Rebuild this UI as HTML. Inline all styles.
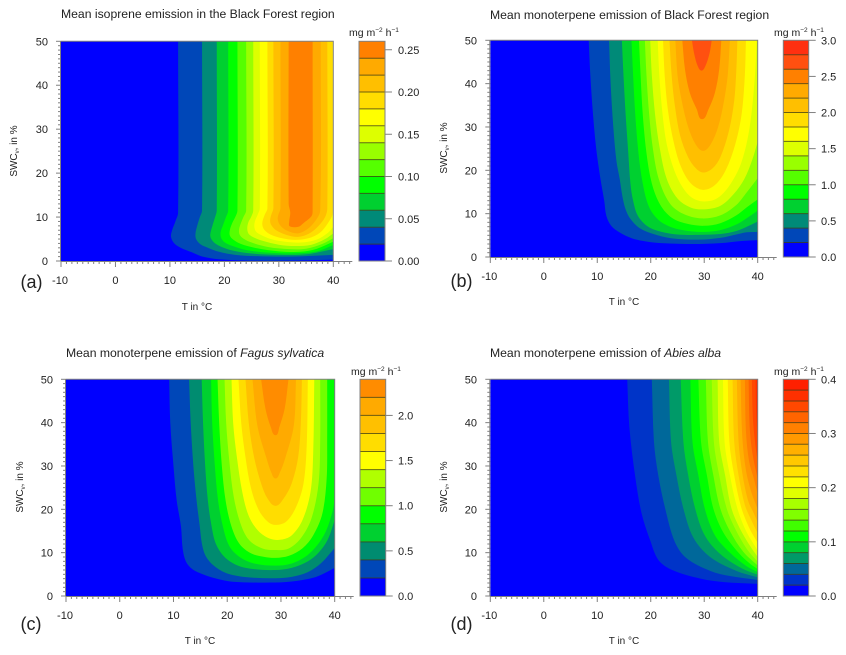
<!DOCTYPE html>
<html lang="en">
<head>
<meta charset="utf-8">
<title>Mean isoprene and monoterpene emission contour charts</title>
<style>
html,body{margin:0;padding:0;background:#fff;}
svg{display:block;}
text{font-family:"Liberation Sans",Arial,sans-serif;fill:#222;}
.title{font-size:12.2px;}
.tick{font-size:11px;}
.axis-title{font-size:10px;}
.panel-letter{font-size:18px;}
.unit{font-size:10.5px;}
</style>
</head>
<body>
<svg id="chart" xmlns="http://www.w3.org/2000/svg" width="846" height="655" viewBox="0 0 846 655">
  <rect width="846" height="655" fill="#fff"/>

  <text class="title" x="61" y="18">Mean isoprene emission in the Black Forest region</text>
  <text class="title" x="490" y="19">Mean monoterpene emission of Black Forest region</text>
  <text class="title" x="66" y="357">Mean monoterpene emission of <tspan font-style="italic">Fagus sylvatica</tspan></text>
  <text class="title" x="490" y="357">Mean monoterpene emission of <tspan font-style="italic">Abies alba</tspan></text>

  <text class="panel-letter" x="20.5" y="288">(a)</text>
  <text class="panel-letter" x="450.5" y="287">(b)</text>
  <text class="panel-letter" x="20.5" y="630">(c)</text>
  <text class="panel-letter" x="450.5" y="630">(d)</text>

  <text class="axis-title" x="197" y="310" text-anchor="middle">T in °C</text>
  <text class="axis-title" x="624" y="305" text-anchor="middle">T in °C</text>
  <text class="axis-title" x="200" y="644" text-anchor="middle">T in °C</text>
  <text class="axis-title" x="624" y="644" text-anchor="middle">T in °C</text>

  <text class="axis-title" transform="translate(17,151) rotate(-90)" text-anchor="middle">SWC<tspan font-size="6" dy="2">v</tspan><tspan dy="-2">, in %</tspan></text>
  <text class="axis-title" transform="translate(447,148) rotate(-90)" text-anchor="middle">SWC<tspan font-size="6" dy="2">v</tspan><tspan dy="-2">, in %</tspan></text>
  <text class="axis-title" transform="translate(23,487) rotate(-90)" text-anchor="middle">SWC<tspan font-size="6" dy="2">v</tspan><tspan dy="-2">, in %</tspan></text>
  <text class="axis-title" transform="translate(447,487) rotate(-90)" text-anchor="middle">SWC<tspan font-size="6" dy="2">v</tspan><tspan dy="-2">, in %</tspan></text>

  <text class="unit" x="349" y="36">mg m<tspan font-size="6.5" dy="-4">−2</tspan><tspan dy="4"> h</tspan><tspan font-size="6.5" dy="-4">−1</tspan></text>
  <text class="unit" x="774" y="36">mg m<tspan font-size="6.5" dy="-4">−2</tspan><tspan dy="4"> h</tspan><tspan font-size="6.5" dy="-4">−1</tspan></text>
  <text class="unit" x="351" y="375">mg m<tspan font-size="6.5" dy="-4">−2</tspan><tspan dy="4"> h</tspan><tspan font-size="6.5" dy="-4">−1</tspan></text>
  <text class="unit" x="774" y="375">mg m<tspan font-size="6.5" dy="-4">−2</tspan><tspan dy="4"> h</tspan><tspan font-size="6.5" dy="-4">−1</tspan></text>
</svg>

<script>
// ---------- shared axis data ----------
const xTickLabels = [-10, 0, 10, 20, 30, 40];
const yTickLabels = [0, 10, 20, 30, 40, 50];

// ---------- panel (a) isoprene ----------
const levelsA = [0, 0.02, 0.04, 0.06, 0.08, 0.10, 0.12, 0.14, 0.16, 0.18, 0.20, 0.22, 0.24, 0.26];
const barTicksA = ["0.00", "0.05", "0.10", "0.15", "0.20", "0.25"];
const contoursA = [
  [[11.5,50],[11.5,11],[11,9],[10.4,7],[10.2,5.5],[10.8,4],[12,3],[14,2],[16,1],[19,0.4],[24,0.1],[33,0.1],[40,0.3]],
  [[15.9,50],[15.9,11.5],[15.5,10],[15,8],[14.7,6.3],[14.8,5],[15.6,3.8],[17,3],[19,2.1],[22,1.4],[26,1.1],[32,1],[40,1.4]],
  [[18.6,50],[18.6,11.5],[18.3,10],[17.8,8],[17.4,6],[17.6,5],[18.3,4],[19.5,3.2],[21.5,2.4],[25,1.7],[30,1.4],[35,1.5],[40,2.7]],
  [[20.7,50],[20.7,11.5],[20.3,10],[19.7,8],[19.3,6.5],[19.4,5.3],[20,4.3],[21.5,3.4],[24,2.5],[28,1.9],[33,1.75],[37,2.2],[40,3.6]],
  [[22.4,50],[22.4,11.5],[22,10],[21.4,8.5],[21,7],[21,5.8],[21.6,4.9],[23,3.9],[26,2.9],[30,2.2],[34,2.1],[37,2.8],[40,4.4]],
  [[24,50],[24,11.5],[23.5,10],[23,8.5],[22.7,7.2],[22.8,6],[23.5,5.1],[25,4.2],[28,3.2],[32,2.7],[35,2.8],[38,3.9],[40,5.2]],
  [[25.3,50],[25.3,11.5],[24.9,10],[24.4,8.8],[24.2,7.5],[24.4,6.3],[25.2,5.5],[27,4.6],[30,3.7],[33,3.4],[36,3.7],[38.5,5],[40,6.3]],
  [[26.5,50],[26.5,12],[26.1,10.5],[25.6,9],[25.5,7.8],[25.8,6.7],[26.6,6],[28.5,5],[31,4.4],[34,4.2],[37,4.9],[39,6.4],[40,7.8]],
  [[27.9,50],[27.9,12],[27.4,10.5],[27,9],[27,8],[27.4,7],[28.5,6],[30.5,5.2],[33,4.8],[35.5,5.2],[37.5,6.4],[39,8.6],[39.9,11],[39.9,50]],
  [[29,50],[29,12],[28.6,10.5],[28.4,9.2],[28.6,8.2],[29.5,7],[31.5,5.9],[33.5,5.5],[35.5,6.2],[37.3,8],[38.5,10],[38.9,12],[38.9,50]],
  [[30.3,50],[30.3,12],[29.9,10.5],[29.8,9.5],[30.2,8.2],[31.5,6.9],[33.5,6.3],[35.3,7.3],[36.8,9.3],[37.6,11.5],[37.7,50]],
  [[31.8,50],[31.8,13],[32.1,11],[31.9,9],[32,7.9],[33.6,7.8],[34.5,8.6],[36,10.2],[36.2,11.5],[36.2,50]]
];

// ---------- panel (b) monoterpene, Black Forest ----------
const levelsB = [0, 0.2, 0.4, 0.6, 0.8, 1.0, 1.2, 1.4, 1.6, 1.8, 2.0, 2.2, 2.4, 2.6, 2.8, 3.0];
const barTicksB = ["0.0", "0.5", "1.0", "1.5", "2.0", "2.5", "3.0"];
const contoursB = [
  [[8.4,50],[8.7,42],[9.2,33],[9.8,25],[10.6,18],[11.3,13],[11.7,9.5],[12.6,7.2],[14,5.8],[16.5,4.3],[19,3.6],[22,3.2],[28,3],[33,3.2],[37,3.7],[40,3.9]],
  [[12.2,50],[12.5,40],[13,30],[13.6,22],[14.2,18],[14.7,14],[15.3,11],[16.2,8.8],[18,6.6],[20.5,5.3],[24,4.3],[29,4],[33,4.4],[36,5.2],[38,5.7],[40,5.8]],
  [[14.6,50],[14.9,42],[15.3,33],[15.8,24],[16.2,17],[16.7,13],[17.6,9.5],[19.5,7],[22,5.8],[25,5.2],[29,5.1],[33,5.3],[36,6],[38,7],[40,8.2]],
  [[16.4,50],[16.7,42],[17.1,33],[17.7,24],[18.5,17],[19.7,11.5],[21.5,8.5],[24,6.8],[27,6],[30,5.8],[33,6.2],[36,7.5],[38,9],[40,10.7]],
  [[17.8,50],[18.1,42],[18.5,33],[19.2,24],[20.2,17],[21.8,12],[24,9],[27,7.6],[30,7.2],[33,7.8],[36,9.6],[38,11.5],[40,13.3]],
  [[18.9,50],[19.2,42],[19.7,33],[20.4,25],[21.5,18],[23.5,12.5],[26,10],[29.5,8.9],[33,9.6],[36,12],[38,15],[40,18.2]],
  [[19.9,50],[20.2,42],[20.8,33],[21.7,25],[23,18],[25,13.5],[27.5,11.4],[30,11],[33,11.8],[35.5,14.5],[37.5,18],[39,22.5],[40,26.6]],
  [[21.3,50],[21.6,42],[22.2,33],[23,26],[24.4,20],[26,16],[27.8,13.6],[30,12.8],[32.5,13.6],[35,17],[37,22],[38.5,30],[39.5,42],[39.8,50]],
  [[22.3,50],[22.6,42],[23.2,34],[24.2,27],[25.6,21],[27.5,17],[29.8,15.5],[32,16.6],[34,20],[35.8,26],[37,33],[37.6,42],[37.8,50]],
  [[23.5,50],[23.9,42],[24.5,35],[25.5,28],[27,23],[28.5,20.4],[29.8,19.5],[31.5,20.4],[33,23],[34.6,29],[35.6,36],[36,43],[36.2,50]],
  [[24.6,50],[25,42],[25.8,36],[27,30],[28.4,26],[29.8,24.5],[31.2,26],[32.6,30],[33.7,36],[34.4,42],[34.8,50]],
  [[25.9,50],[26.4,43.3],[27.3,37.9],[28.6,34.1],[29.6,31.8],[30.8,34.1],[32,37.9],[32.8,43.3],[33.2,50]],
  [[27.7,50],[28.1,47],[28.8,44],[29.5,43],[30.2,44],[31,47],[31.4,50]]
];

// ---------- panel (c) monoterpene, Fagus sylvatica ----------
const levelsC = [0, 0.2, 0.4, 0.6, 0.8, 1.0, 1.2, 1.4, 1.6, 1.8, 2.0, 2.2, 2.4];
const barTicksC = ["0.0", "0.5", "1.0", "1.5", "2.0"];
const contoursC = [
  [[9.2,50],[9.4,40],[10,30],[10.6,22],[11.4,16],[11.7,11],[12.3,8],[13.5,6.2],[15.5,5],[18,4],[21,3.3],[29,3.1],[33,3.5],[36,4.2],[38,5.2],[40,6.5]],
  [[12.9,50],[13.2,40],[13.7,30],[14.3,22],[14.9,16],[15.3,12],[16,9.2],[17.5,7],[20,5.2],[24,4.3],[29,4.1],[32,4.4],[35,5.5],[37.5,7.6],[40,11.1]],
  [[15.25,50],[15.5,40],[15.9,30],[16.4,22],[17.1,16],[17.9,12],[19.5,9],[22,7],[25,6.2],[29,6],[32,6.5],[35,8],[37,10],[38.7,13],[40,17.5]],
  [[17,50],[17.2,40],[17.7,30],[18.3,22],[19.2,16],[20.4,11.5],[22.3,9],[25,7.5],[29,7],[32,7.5],[35,9.5],[37.5,13],[39,17],[39.9,22],[39.9,50]],
  [[18.2,50],[18.5,40],[19,30],[19.7,22],[20.8,16],[22.3,12],[24.5,9.8],[27,9],[29,8.8],[31.5,9.3],[34,11],[36,14],[37.7,19],[38.5,27],[38.6,36],[38.6,50]],
  [[19.5,50],[19.8,40],[20.4,31],[21.2,23],[22.4,17],[24,13],[26.5,11],[29,10.6],[31.5,11],[33.8,13.5],[35.7,18],[37,26],[37.3,36],[37.3,50]],
  [[20.8,50],[21.1,40],[21.8,32],[22.8,24],[24,18.5],[25.8,15],[28,13.2],[30,13],[32,14],[34,17.5],[35.5,24],[36,33],[36.2,50]],
  [[22.1,50],[22.6,40],[23.4,32],[24.4,25],[25.8,20],[27.5,17.2],[29,16.4],[31,17.2],[32.8,20.5],[34.2,26],[34.8,35],[35,50]],
  [[23.4,50],[24,40],[25,32],[26.3,26],[27.5,22.5],[29,20.8],[30.5,22.5],[32,26],[33.2,32],[33.7,40],[33.9,50]],
  [[24.7,50],[25.6,39.4],[27.3,31.8],[28.2,28.5],[29,27.1],[29.8,28.5],[30.8,31.8],[32.4,39.4],[32.8,50]],
  [[26.3,50],[27.1,43.3],[28.1,39],[29,37.1],[29.7,39],[30.7,43.3],[31.4,50]]
];

// ---------- panel (d) monoterpene, Abies alba ----------
const levelsD = [0, 0.02, 0.04, 0.06, 0.08, 0.10, 0.12, 0.14, 0.16, 0.18, 0.20, 0.22, 0.24, 0.26, 0.28, 0.30, 0.32, 0.34, 0.36, 0.38, 0.40];
const barTicksD = ["0.0", "0.1", "0.2", "0.3", "0.4"];
const contoursD = [
  [[15.6,50],[16,39],[17.1,27.5],[18.3,19],[19.9,12.8],[21.5,8.2],[24.2,5.9],[29.3,4],[33.7,3.2],[40,2.8]],
  [[20.2,50],[20.6,35.6],[21.4,27.9],[22.7,20.2],[24.5,12.5],[26.7,8.7],[31.1,5.8],[34.8,4.6],[40,3.7]],
  [[23.4,50],[23.8,35.6],[24.8,27.9],[26.1,20.2],[28,13.4],[31.1,9],[36,5.8],[40,4.3]],
  [[25.6,50],[26.1,35.6],[27,27.9],[28.3,20.2],[30.1,14],[33,9.7],[37,6.4],[40,4.9]],
  [[27.4,50],[27.8,35.6],[28.9,27.9],[30.1,20.2],[32,14],[34.8,10],[37.9,6.9],[40,5.5]],
  [[28.9,50],[29.4,35.6],[30.5,27.9],[31.7,20.2],[33.6,14.6],[36.4,10],[38.6,7.4],[40,6.2]],
  [[30.3,50],[30.7,35.6],[31.7,27.9],[33,20.2],[34.8,15],[37.3,10.2],[40,7]],
  [[31.4,50],[31.8,35.6],[32.8,27.9],[34.2,20.2],[35.8,15.5],[38,10.8],[40,7.9]],
  [[32.5,50],[32.8,35.6],[33.9,27.9],[35.1,20.2],[36.7,15.5],[38.6,11.5],[40,9]],
  [[33.5,50],[33.8,35.6],[34.8,27.9],[36.2,20.2],[37.9,14.8],[40,10.5]],
  [[34.4,50],[34.7,35.6],[35.6,27.9],[36.9,20.5],[38.5,15.5],[40,12.3]],
  [[35.3,50],[35.6,35.6],[36.4,28],[37.6,21],[39,17],[40,14.5]],
  [[36.1,50],[36.4,36],[37.1,28.5],[38.2,22],[39.3,19],[40,17]],
  [[36.8,50],[37.1,37],[37.8,29],[38.8,24],[40,20]],
  [[37.6,50],[37.8,38],[38.4,31],[39.3,27],[40,23.5]],
  [[38.3,50],[38.5,39],[39,33],[40,27]],
  [[38.9,50],[39.1,41],[39.5,35.5],[40,31]],
  [[39.6,50],[39.7,43],[40,36]]
];

// ---------- styles and layout ----------
const paletteA = ["#0000ff","#0047b8","#008a78","#00d030","#00ff00","#55ff00","#99ff00","#ddff00","#ffff00","#ffdd00","#ffbf00","#ffaa00","#ff8000"];
const paletteB = ["#0000ff","#0047b8","#008a78","#00d030","#00ff00","#55ff00","#99ff00","#ddff00","#ffff00","#ffdd00","#ffbf00","#ffaa00","#ff8000","#ff5010","#ff3010"];
const paletteC = ["#0000ff","#0047b8","#008c70","#00d030","#00ff00","#70ff00","#b0ff00","#ffff00","#ffdd00","#ffc000","#ffaa00","#ff8c00"];
const paletteD = ["#0000ff","#0034c8","#00689a","#009a68","#00d030","#00ff00","#40ff00","#80ff00","#a8ff00","#e0ff00","#ffff00","#ffe000","#ffc800","#ffb000","#ff9900","#ff8000","#ff6400","#ff4800","#ff3000","#ff2000"];

const panels = [
  {id:"a", levels:levelsA, ticks:barTicksA, contours:contoursA, colors:paletteA,
   left:61, right:333.3, top:41.3, bottom:261, barL:359, barR:385, tickY:284, yLabelR:48, barLabelX:398},
  {id:"b", levels:levelsB, ticks:barTicksB, contours:contoursB, colors:paletteB,
   left:490.3, right:757.7, top:40.3, bottom:257, barL:783.3, barR:808.7, tickY:280, yLabelR:477, barLabelX:821},
  {id:"c", levels:levelsC, ticks:barTicksC, contours:contoursC, colors:paletteC,
   left:66, right:334.7, top:379.3, bottom:596, barL:360, barR:385.7, tickY:619, yLabelR:53, barLabelX:398},
  {id:"d", levels:levelsD, ticks:barTicksD, contours:contoursD, colors:paletteD,
   left:490.3, right:757.7, top:379.3, bottom:596, barL:783.3, barR:808.7, tickY:619, yLabelR:477, barLabelX:821}
];

const svg = document.getElementById("chart");
const NS = "http://www.w3.org/2000/svg";
const AXIS = "#808080";

function mk(tag, attrs, parent) {
  const node = document.createElementNS(NS, tag);
  for (const k in attrs) node.setAttribute(k, attrs[k]);
  parent.appendChild(node);
  return node;
}

// Smooth path through data points: chord-limited tangents avoid overshoot.
function smoothPath(pts) {
  let d = "M" + pts[0][0].toFixed(2) + " " + pts[0][1].toFixed(2);
  const dirs = pts.map(function (p, i) {
    const a = pts[Math.max(i - 1, 0)], b = pts[Math.min(i + 1, pts.length - 1)];
    const dx = b[0] - a[0], dy = b[1] - a[1], n = Math.hypot(dx, dy) || 1;
    return [dx / n, dy / n];
  });
  for (let i = 0; i < pts.length - 1; i++) {
    const p = pts[i], q = pts[i + 1];
    const s = Math.hypot(q[0] - p[0], q[1] - p[1]) * 0.33;
    d += "C" + (p[0] + dirs[i][0] * s).toFixed(2) + " " + (p[1] + dirs[i][1] * s).toFixed(2) +
         " " + (q[0] - dirs[i + 1][0] * s).toFixed(2) + " " + (q[1] - dirs[i + 1][1] * s).toFixed(2) +
         " " + q[0].toFixed(2) + " " + q[1].toFixed(2);
  }
  return d;
}

panels.forEach(function (p) {
  const xScale = function (t) { return p.left + (t + 10) / 50 * (p.right - p.left); };
  const yScale = function (s) { return p.bottom - s / 50 * (p.bottom - p.top); };
  const vMax = p.levels[p.levels.length - 1];
  const barScale = function (v) { return p.bottom - v / vMax * (p.bottom - p.top); };

  const group = mk("g", {}, svg);
  
  

  // Clip for contour fills
  const defs = mk("defs", {}, group);
  const clip = mk("clipPath", {id: "clip-" + p.id}, defs);
  mk("rect", {x: p.left, y: p.top, width: p.right - p.left, height: p.bottom - p.top}, clip);

  const plot = mk("g", {"clip-path": "url(#clip-" + p.id + ")"}, group);
  
  

  const base = mk("rect", {x: p.left, y: p.top, width: p.right - p.left, height: p.bottom - p.top, fill: p.colors[0]}, plot);
  
  

  p.contours.forEach(function (line, i) {
    const pts = line.map(function (q) { return [xScale(q[0]), yScale(q[1])]; });
    const last = line[line.length - 1];
    let d = smoothPath(pts);
    if (last[1] >= 50) {
      d += "L" + xScale(last[0]) + " " + yScale(51);
    } else {
      d += "L" + xScale(41) + " " + yScale(last[1]) + "L" + xScale(41) + " " + yScale(51);
    }
    d += "L" + xScale(line[0][0]) + " " + yScale(51) + "Z";
    const band = mk("path", {d: d, fill: p.colors[i + 1]}, plot);
    
    
  });

  // Plot frame (top and right edges)
  const frame = mk("path", {d: "M" + p.left + " " + p.top + "H" + p.right + "V" + p.bottom, fill: "none", stroke: AXIS, "stroke-width": 1}, group);
  
  

  // X axis
  const xAxisEnd = p.right + 19;
  const xAxis = mk("line", {x1: p.left, x2: xAxisEnd, y1: p.bottom + 0.5, y2: p.bottom + 0.5, stroke: AXIS, "stroke-width": 1}, group);
  
  
  for (let t = -9; xScale(t) <= xAxisEnd; t++) {
    if ((t + 10) % 10 === 0) continue;
    const minor = mk("line", {x1: xScale(t), x2: xScale(t), y1: p.bottom, y2: p.bottom + 3, stroke: AXIS, "stroke-width": 1}, group);
    
    
  }
  xTickLabels.forEach(function (t) {
    const major = mk("line", {x1: xScale(t), x2: xScale(t), y1: p.bottom, y2: p.bottom + 6, stroke: AXIS, "stroke-width": 1}, group);
    
    
    const label = mk("text", {x: xScale(t) - (t < 0 ? 1 : 0), y: p.tickY, "text-anchor": "middle", "class": "tick"}, group);
    label.textContent = t;
    
    
  });

  // Y axis
  const yAxis = mk("line", {x1: p.left - 0.5, x2: p.left - 0.5, y1: p.top, y2: p.bottom, stroke: AXIS, "stroke-width": 1}, group);
  
  
  for (let s = 1; s < 50; s++) {
    if (s % 10 === 0) continue;
    const minor = mk("line", {x1: p.left - 3, x2: p.left, y1: yScale(s), y2: yScale(s), stroke: AXIS, "stroke-width": 1}, group);
    
    
  }
  yTickLabels.forEach(function (s) {
    const major = mk("line", {x1: p.left - 5, x2: p.left, y1: yScale(s), y2: yScale(s), stroke: AXIS, "stroke-width": 1}, group);
    
    
    const label = mk("text", {x: p.yLabelR, y: yScale(s) + 4, "text-anchor": "end", "class": "tick"}, group);
    label.textContent = s;
    
    
  });

  // Colour bar
  const bar = mk("g", {}, group);
  
  
  p.colors.forEach(function (c, i) {
    const y1 = barScale(p.levels[i + 1]), y0 = barScale(p.levels[i]);
    const swatch = mk("rect", {x: p.barL, y: y1, width: p.barR - p.barL, height: y0 - y1, fill: c}, bar);
    
    
    if (i > 0) {
      const sep = mk("line", {x1: p.barL, x2: p.barR, y1: y0, y2: y0, stroke: "#3a3a10", "stroke-width": 1, "stroke-opacity": 0.75}, bar);
      
      
    }
  });
  const outline = mk("rect", {x: p.barL, y: p.top, width: p.barR - p.barL, height: p.bottom - p.top, fill: "none", stroke: AXIS, "stroke-width": 1}, bar);
  
  
  p.ticks.forEach(function (txt) {
    const v = parseFloat(txt);
    const y = barScale(v);
    const tick = mk("line", {x1: p.barR, x2: p.barR + 7, y1: y, y2: y, stroke: AXIS, "stroke-width": 1}, bar);
    
    
    const label = mk("text", {x: p.barLabelX, y: y + 4, "class": "tick"}, bar);
    label.textContent = txt;
    
    
  });
});
</script>
</body>
</html>
